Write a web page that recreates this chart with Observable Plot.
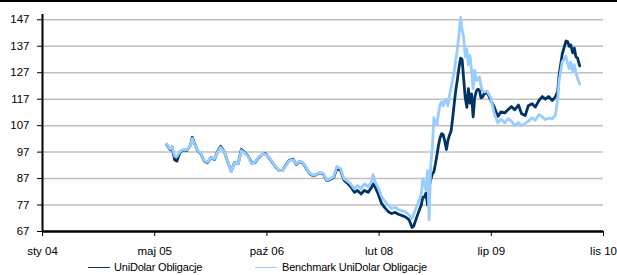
<!DOCTYPE html>
<html><head><meta charset="utf-8">
<script src="https://cdn.jsdelivr.net/npm/d3@7"></script>
<script src="https://cdn.jsdelivr.net/npm/@observablehq/plot@0.6"></script>
<style>
body{margin:0;background:#fff;font-family:"Liberation Sans",Arial,sans-serif;color:#000}
#wrap{width:617px;height:275px;border-top:2px solid #000;box-sizing:border-box;overflow:hidden}
#chart svg{display:block}
.legend{position:relative;height:17px;font-size:11px;width:617px}
.sw{position:absolute;top:9px;width:22px;height:1px}
.lt{position:absolute;top:1px;line-height:17px;white-space:nowrap;letter-spacing:-0.2px}
</style></head>
<body><div id="wrap"><div id="chart"></div>
<div class="legend">
<div class="sw" style="left:88px;background:#003366"></div><div class="lt" style="left:114px">UniDolar Obligacje</div>
<div class="sw" style="left:255px;background:#99ccff"></div><div class="lt" style="left:282px">Benchmark UniDolar Obligacje</div>
</div></div>
<script>
const dates = ["2005-07-18","2005-08-01","2005-08-10","2005-08-22","2005-09-01","2005-09-15","2005-10-01","2005-10-15","2005-11-01","2005-11-08","2005-11-15","2005-12-01","2005-12-15",
"2006-01-01","2006-01-15","2006-02-01","2006-02-15","2006-03-01","2006-03-15","2006-04-01","2006-04-15","2006-05-01","2006-05-15","2006-06-01","2006-06-15","2006-07-01","2006-07-15","2006-08-01","2006-08-15","2006-09-01","2006-09-15","2006-10-01","2006-10-15","2006-11-01","2006-11-15","2006-12-01","2006-12-15",
"2007-01-01","2007-01-15","2007-02-01","2007-02-15","2007-03-01","2007-03-15","2007-04-01","2007-04-15","2007-05-01","2007-05-15","2007-06-01","2007-06-15","2007-07-01","2007-07-15","2007-08-01","2007-08-15","2007-09-01","2007-09-15","2007-10-01","2007-10-15","2007-11-01","2007-11-15","2007-12-01","2007-12-15",
"2008-01-01","2008-01-15","2008-01-23","2008-02-01","2008-02-15","2008-03-01","2008-03-15","2008-04-01","2008-04-15","2008-05-01","2008-05-15","2008-06-01","2008-06-15","2008-07-01","2008-07-15","2008-07-22","2008-08-01","2008-08-15","2008-08-25","2008-09-01","2008-09-08","2008-09-15","2008-09-22","2008-09-29","2008-10-06","2008-10-13","2008-10-20","2008-10-27","2008-11-03","2008-11-10","2008-11-17","2008-11-24","2008-12-01","2008-12-08","2008-12-15","2008-12-22","2008-12-29",
"2009-01-05","2009-01-12","2009-01-19","2009-01-26","2009-02-02","2009-02-09","2009-02-16","2009-02-23","2009-03-02","2009-03-09","2009-03-16","2009-03-23","2009-03-30","2009-04-06","2009-04-13","2009-04-20","2009-04-27","2009-05-04","2009-05-11","2009-05-18","2009-05-25","2009-06-01","2009-06-15","2009-07-01","2009-07-15","2009-08-01","2009-08-15","2009-09-01","2009-09-15","2009-10-01","2009-10-15","2009-11-01","2009-11-15","2009-12-01","2009-12-15",
"2010-01-01","2010-01-15","2010-02-01","2010-02-15","2010-03-01","2010-03-15","2010-04-01","2010-04-15","2010-04-25","2010-05-01","2010-05-15","2010-06-01","2010-06-08","2010-06-15","2010-06-22","2010-07-01","2010-07-08","2010-07-15","2010-07-22","2010-08-01"];

const uniDolar = [99.8,98.0,99.0,94.0,93.6,97.0,97.8,97.6,99.6,102.6,101.0,97.7,96.6,
93.6,93.0,95.0,94.2,97.2,99.2,97.0,93.4,89.8,93.0,92.6,98.0,96.8,95.5,92.8,93.0,95.0,96.0,96.4,95.0,93.0,91.4,90.0,90.0,
92.2,94.0,94.3,92.3,93.4,93.0,90.8,89.0,88.0,88.5,89.2,88.7,86.2,86.6,87.5,91.0,90.0,86.5,85.2,84.0,81.8,82.5,81.2,82.5,
81.8,83.5,85.0,83.8,81.2,77.6,76.0,74.4,73.8,74.2,73.5,73.0,72.5,71.5,68.5,69.0,71.5,74.8,77.0,80.0,80.0,81.5,77.0,84.0,86.5,88.8,89.5,92.5,96.0,99.8,102.5,104.0,103.5,101.0,98.0,101.5,103.5,
105.0,110.0,115.5,120.5,124.5,129.0,132.5,132.0,124.5,117.5,113.9,121.0,115.5,119.0,110.3,117.5,120.0,120.8,120.5,117.5,117.8,119.0,119.5,116.6,114.2,110.5,112.2,111.8,113.0,114.2,113.0,114.8,111.5,110.8,114.5,
115.3,114.0,116.6,118.0,117.0,118.0,116.5,118.0,120.0,126.0,134.0,139.0,138.8,137.0,137.5,134.5,136.3,133.0,132.6,129.6];

const benchmark = [100.1,98.2,99.2,95.5,95.3,97.3,98.0,97.8,99.5,102.2,100.7,97.8,96.8,
93.8,93.2,95.0,94.4,97.0,98.8,97.0,93.5,89.6,93.0,92.5,97.6,96.6,95.3,92.5,93.2,95.2,96.0,96.2,95.2,93.2,91.5,90.0,90.0,
92.0,93.8,94.1,92.5,93.5,93.2,91.0,89.2,88.2,88.6,89.4,88.9,86.4,86.9,87.8,91.6,90.7,87.0,86.0,85.0,83.1,84.4,83.2,85.0,
84.0,85.5,88.5,85.8,83.6,80.2,78.5,76.9,75.7,76.1,75.3,74.8,74.4,73.3,71.9,73.5,75.8,78.8,81.0,87.0,85.0,82.5,90.0,71.4,92.0,98.5,110.0,108.0,107.5,112.0,115.0,116.0,114.5,116.5,117.0,114.5,118.5,
121.5,124.5,127.5,132.0,136.0,141.5,147.9,143.0,140.5,133.0,136.0,130.0,133.5,128.0,121.0,128.0,124.0,124.5,125.5,122.0,120.0,119.8,120.0,117.5,112.0,108.0,109.5,108.0,109.6,108.7,107.0,108.2,107.0,107.8,108.7,
110.0,109.0,111.2,110.3,109.3,109.8,109.6,111.0,117.0,124.0,131.0,133.2,130.5,128.5,131.0,127.5,130.0,127.0,125.0,122.7];

const tickDates = ["2004-01-11","2005-05-25","2006-10-07","2008-02-19","2009-07-03","2010-11-15"];
const tickLabels = ["sty 04","maj 05","paź 06","lut 08","lip 09","lis 10"];
const yTicks = [67,77,87,97,107,117,127,137,147];

const seriesA = dates.map((d,i)=>({date:new Date(d), value:uniDolar[i]}));
const seriesB = dates.map((d,i)=>({date:new Date(d), value:benchmark[i]}));
const xt = tickDates.map(d=>new Date(d));

const chart = Plot.plot({
  width:617, height:256,
  marginLeft:42, marginRight:14, marginTop:12, marginBottom:27,
  style:{fontFamily:"'Liberation Sans', Arial, sans-serif", fontSize:"11.5px", color:"#000", background:"#fff", overflow:"visible"},
  x:{type:"utc", domain:[xt[0], xt[xt.length-1]]},
  y:{domain:[67,149]},
  marks:[
    Plot.ruleY(yTicks.slice(1), {stroke:"#c0c0c0", strokeWidth:1.5}),
    Plot.line(seriesA, {x:"date", y:"value", stroke:"#003366", strokeWidth:2.8}),
    Plot.line(seriesB, {x:"date", y:"value", stroke:"#99ccff", strokeWidth:2.8}),
    Plot.ruleY([67], {stroke:"#000", strokeWidth:2.5}),
    Plot.ruleX([xt[0]], {y1:67, y2:149, stroke:"#000", strokeWidth:2}),
    Plot.axisY({ticks:yTicks, tickSize:5, tickPadding:8, label:null, tickFormat:d=>String(d)}),
    Plot.axisX({ticks:xt, tickSize:5, tickPadding:10, label:null, tickFormat:(d,i)=>tickLabels[i]})
  ]
});
document.getElementById("chart").appendChild(chart);
</script></body></html>
